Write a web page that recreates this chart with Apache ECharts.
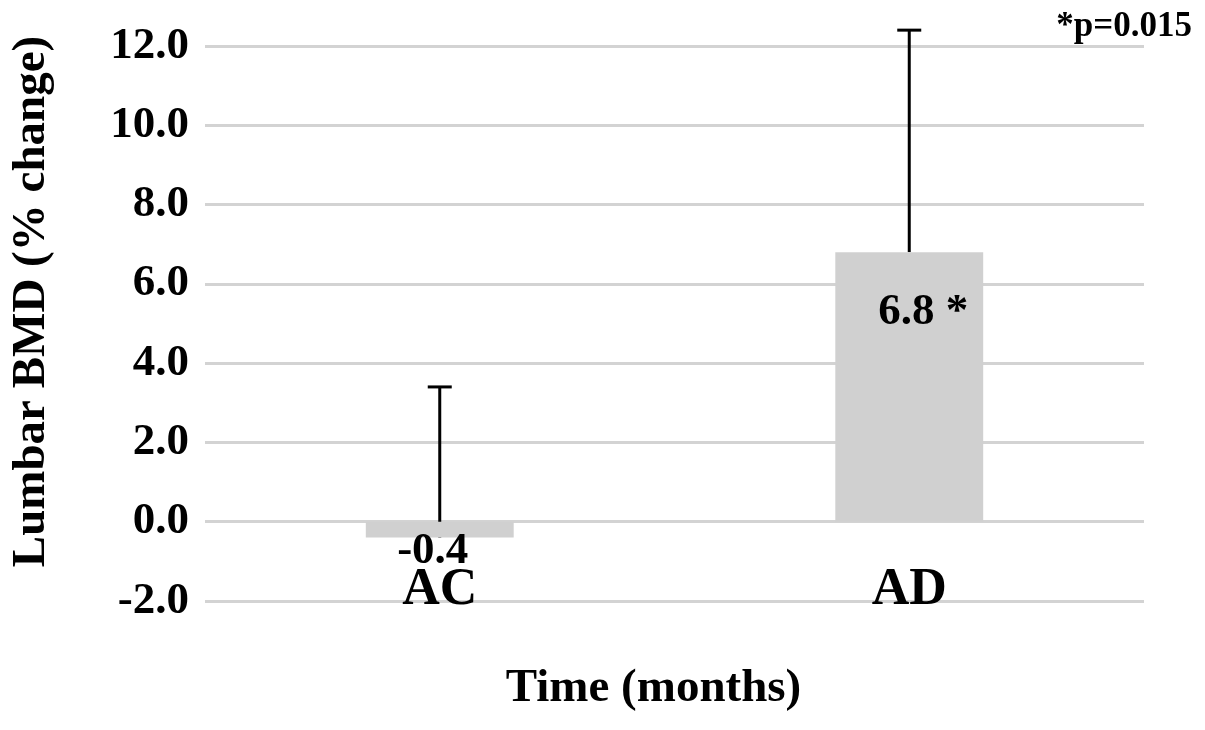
<!DOCTYPE html>
<html>
<head>
<meta charset="utf-8">
<script src="https://cdn.jsdelivr.net/npm/echarts@6/dist/echarts.min.js"></script>
<style>
html,body{margin:0;padding:0;background:#fff;}
#chart{width:1205px;height:730px;}
</style>
</head>
<body>
<div id="chart"></div>
<script>
// Data
const categories = ['AC', 'AD'];
const meanChange = [-0.4, 6.8];
const errorTop = [3.4, 12.4];
const sigMark = ['', ' *'];
const yTicks = { min: -2, max: 12, interval: 2 };
const pValueNote = '*p=0.015';

const FONT = '"Liberation Serif", "Times New Roman", serif';
const chart = echarts.init(document.getElementById('chart'));

const barData = meanChange.map((v, i) => {
  const neg = v < 0;
  return {
    value: v,
    label: neg
      ? { position: 'bottom', distance: 0, offset: [-7, -9] }
      : { position: 'insideTop', distance: 38, offset: [14, 0] }
  };
});

const errData = meanChange.map((v, i) => [i, v, errorTop[i]]);

chart.setOption({
  animation: false,
  grid: { left: 204, right: 61, top: 46, bottom: 129 },
  xAxis: {
    type: 'category',
    data: categories,
    name: 'Time (months)',
    nameLocation: 'middle',
    nameGap: 64,
    nameTextStyle: { fontFamily: FONT, fontWeight: 'bold', fontSize: 47, color: '#000', padding: [0, 42, 0, 0] },
    axisLine: { show: false },
    axisTick: { show: false },
    axisLabel: {
      fontFamily: FONT, fontWeight: 'bold', fontSize: 52, color: '#000',
      margin: -10, verticalAlign: 'middle'
    }
  },
  yAxis: {
    type: 'value',
    min: yTicks.min, max: yTicks.max, interval: yTicks.interval,
    name: 'Lumbar BMD (% change)',
    nameLocation: 'middle',
    nameGap: 150,
    nameRotate: 90,
    nameTextStyle: { fontFamily: FONT, fontWeight: 'bold', fontSize: 47, color: '#000', padding: [0, 0, 0, 44] },
    axisLine: { show: false },
    axisTick: { show: false },
    axisLabel: {
      fontFamily: FONT, fontWeight: 'bold', fontSize: 45, color: '#000', margin: 16,
      formatter: v => v.toFixed(1)
    },
    splitLine: { lineStyle: { color: '#d3d3d3', width: 3 } }
  },
  series: [
    {
      type: 'custom',
      z: 1,
      clip: false,
      data: errData,
      renderItem: (params, api) => {
        const base = api.coord([api.value(0), api.value(1)]);
        const top = api.coord([api.value(0), api.value(2)]);
        const x = base[0];
        const style = { stroke: '#000', lineWidth: 3 };
        return {
          type: 'group',
          children: [
            { type: 'line', shape: { x1: x, y1: base[1], x2: x, y2: top[1] }, style },
            { type: 'line', shape: { x1: x - 12, y1: top[1], x2: x + 12, y2: top[1] }, style }
          ]
        };
      }
    },
    {
      type: 'bar',
      z: 2,
      barWidth: '31.5%',
      data: barData,
      itemStyle: { color: '#d0d0d0' },
      label: {
        show: true,
        fontFamily: FONT, fontWeight: 'bold', fontSize: 45, color: '#000',
        formatter: p => p.value.toFixed(1) + sigMark[p.dataIndex]
      }
    }
  ],
  graphic: [
    {
      type: 'text',
      right: 13,
      top: 9,
      style: { text: pValueNote, fontFamily: FONT, fontWeight: 'bold', fontSize: 35, fill: '#000' }
    }
  ]
});
</script>
</body>
</html>
